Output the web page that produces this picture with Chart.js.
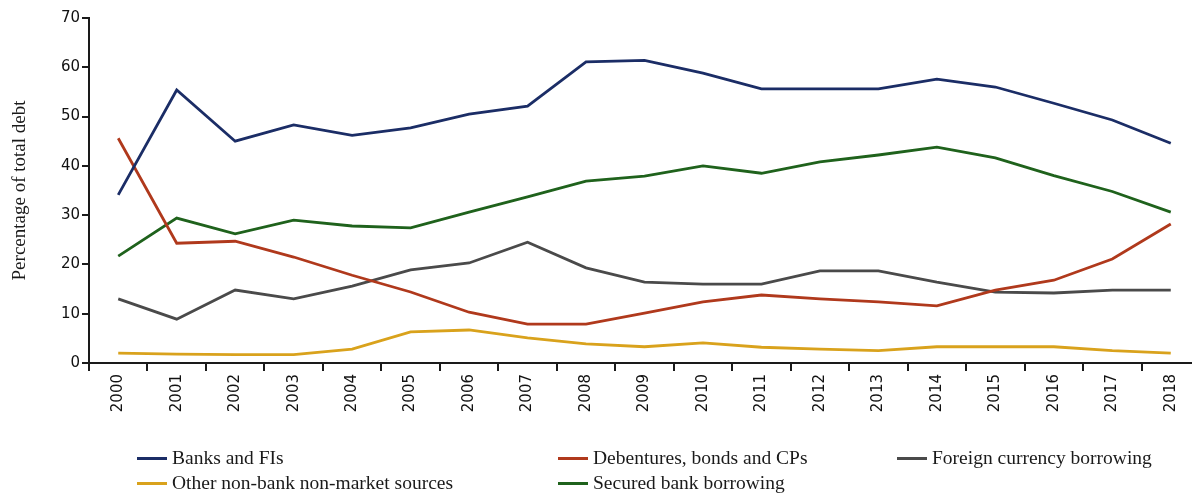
<!DOCTYPE html>
<html>
<head>
<meta charset="utf-8">
<script src="https://cdn.jsdelivr.net/npm/chart.js@4"></script>
<style>
html,body{margin:0;padding:0;overflow:hidden;background:#fff;width:1192px;height:493px;}
#wrap{position:absolute;left:0;top:0;width:1200px;height:430px;}
#legend{position:absolute;left:0;top:0;width:1192px;height:493px;pointer-events:none;font-family:"Liberation Serif",serif;font-size:19.5px;color:#1a1a1a;}
.li{position:absolute;height:24px;line-height:24px;white-space:nowrap;}
.sw{position:absolute;left:0;top:11px;width:30px;height:3px;}
.tx{position:absolute;left:35px;top:0;}
</style>
</head>
<body>
<div id="wrap"><canvas id="c"></canvas></div>
<div id="legend"></div>
<script>
const years = ["2000","2001","2002","2003","2004","2005","2006","2007","2008","2009","2010","2011","2012","2013","2014","2015","2016","2017","2018"];
const banksFIs =      [34.1,55.4,45.0,48.3,46.2,47.7,50.5,52.1,61.1,61.4,58.8,55.6,55.6,55.6,57.6,56.0,52.7,49.3,44.6];
const debentures =    [45.6,24.3,24.7,21.5,17.8,14.4,10.3,7.9,7.9,10.1,12.4,13.8,13.0,12.4,11.6,14.8,16.8,21.1,28.2];
const foreignCurr =   [13.0,8.9,14.8,13.0,15.6,18.9,20.3,24.5,19.3,16.4,16.0,16.0,18.7,18.7,16.4,14.4,14.2,14.8,14.8];
const otherNonBank =  [2.0,1.8,1.7,1.7,2.8,6.3,6.7,5.1,3.9,3.3,4.1,3.2,2.8,2.5,3.3,3.3,3.3,2.5,2.0];
const securedBank =   [21.7,29.4,26.2,29.0,27.8,27.4,30.6,33.7,36.9,37.9,40.0,38.5,40.8,42.2,43.8,41.6,38.0,34.8,30.6];
const seriesNames = ["Banks and FIs","Debentures, bonds and CPs","Foreign currency borrowing","Other non-bank non-market sources","Secured bank borrowing"];
const yTicks = [0,10,20,30,40,50,60,70];

const colors = ["#1b2d66","#b0391c","#4a4a4a","#d9a21c","#1f621c"];
const seriesData = [banksFIs, debentures, foreignCurr, otherNonBank, securedBank];

const datasets = seriesNames.map((n,i)=>({
  label:n, data:seriesData[i], borderColor:colors[i], backgroundColor:colors[i],
  borderWidth:2.8, pointRadius:0, tension:0, fill:false
}));

const axisColor = "#1a1a1a";
const chart = new Chart(document.getElementById('c'), {
  type:'line',
  data:{labels:years, datasets:datasets},
  options:{
    responsive:true, maintainAspectRatio:false, animation:false,
    devicePixelRatio:1,
    layout:{padding:{top:18,right:0,left:0,bottom:0}},
    plugins:{legend:{display:false}, tooltip:{enabled:false}},
    scales:{
      x:{
        offset:true,
        grid:{display:true, offset:true, drawOnChartArea:false, drawTicks:true, tickLength:8, color:axisColor, lineWidth:2},
        border:{display:true, color:axisColor, width:2},
        ticks:{minRotation:90, maxRotation:90, autoSkip:false, padding:3, color:"#111", font:{family:"DejaVu Sans", size:15}},
        afterFit:(s)=>{s.height = 67;}
      },
      y:{
        min:0, max:70,
        afterBuildTicks:(s)=>{s.ticks = yTicks.map(v=>({value:v}));},
        grid:{display:true, drawOnChartArea:false, drawTicks:true, tickLength:7, color:axisColor, lineWidth:2},
        border:{display:true, color:axisColor, width:2},
        ticks:{padding:2, color:"#111", font:{family:"DejaVu Sans", size:15}},
        title:{display:true, text:"Percentage of total debt", color:"#1a1a1a", font:{family:"Liberation Serif", size:19}, padding:{top:9,bottom:4}},
        afterFit:(s)=>{s.width = 89;}
      }
    }
  }
});

// HTML legend built from the chart's datasets (3 columns x 2 rows)
const colX = [137, 558, 897];
const rowY = [446, 471];
const lg = document.getElementById('legend');
chart.data.datasets.forEach((ds,i)=>{
  const col = i % 3, row = Math.floor(i/3);
  const d = document.createElement('div');
  d.className='li';
  d.style.left = colX[col]+'px';
  d.style.top = rowY[row]+'px';
  d.innerHTML = '<span class="sw" style="background:'+ds.borderColor+'"></span><span class="tx">'+ds.label+'</span>';
  lg.appendChild(d);
});
</script>
</body>
</html>
